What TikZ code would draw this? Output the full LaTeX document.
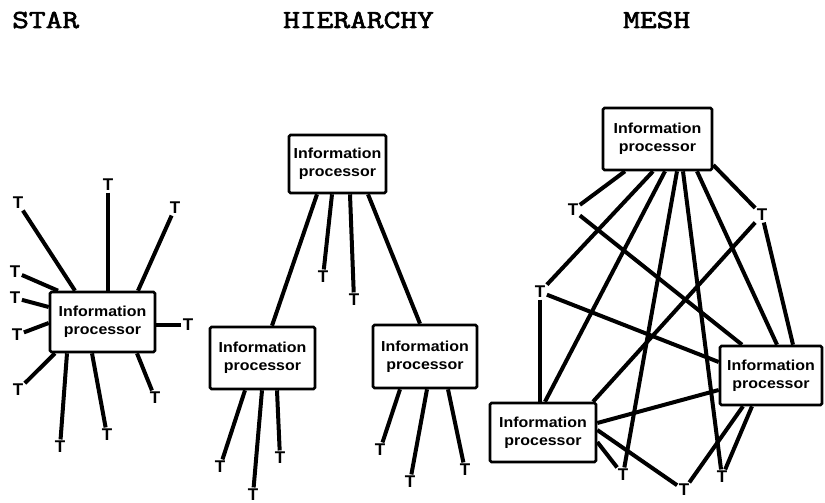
\documentclass[tikz,border=0pt]{standalone}
\usepackage{fontspec}
\setmainfont{Liberation Sans}
\newfontfamily\boxfont[FakeStretch=1.1]{Liberation Sans}
\newfontfamily\hdrfont[FakeBold=2.5,FakeStretch=1.25]{Latin Modern Mono}
\begin{document}
\begin{tikzpicture}[x=1pt,y=-1pt,
  proc/.style={draw, fill=white, line width=2.6pt, rounded corners=1.5pt, align=center,
    inner sep=0pt, minimum width=105pt, minimum height=60pt,
    font=\boxfont\bfseries\fontsize{14.5}{18}\selectfont},
  term/.style={inner sep=1.5pt, font=\bfseries\fontsize{17}{17}\selectfont},
  link/.style={line width=4pt},
  hdr/.style={anchor=base west, inner sep=0pt, font=\hdrfont\fontsize{26}{26}\selectfont}]
\useasboundingbox (0,0) rectangle (825,503);

% headers
\node[hdr] (hstar) at (12,28) {STAR};
\node[hdr] (hhier) at (283,28) {HIERARCHY};
\node[hdr] (hmesh) at (623,28) {MESH};

% ---------- STAR ----------
\node[proc] (S) at (102.5,322) {Information\\processor};
\node[term] (s1) at (108,185) {T};
\node[term] (s2) at (175,208) {T};
\node[term] (s3) at (18,203) {T};
\node[term] (s4) at (15,272) {T};
\node[term] (s5) at (15,298) {T};
\node[term] (s6) at (17,335) {T};
\node[term] (s7) at (188,325) {T};
\node[term] (s8) at (18,390) {T};
\node[term] (s9) at (60,447) {T};
\node[term] (s10) at (107,435) {T};
\node[term] (s11) at (155,398) {T};
\draw[link] (s1) -- ([xshift=5.5pt]S.north);
\draw[link] (s2) -- ([xshift=35.5pt]S.north);
\draw[link] (s3) -- ([xshift=-27.5pt]S.north);
\draw[link] (s4) -- ([xshift=-44.5pt]S.north);
\draw[link] (s5) -- ([yshift=15pt]S.west);
\draw[link] (s6) -- ([yshift=-1pt]S.west);
\draw[link] (s7) -- ([yshift=-3pt]S.east);
\draw[link] (s8) -- ([xshift=-47.5pt]S.south);
\draw[link] (s9) -- ([xshift=-35.5pt]S.south);
\draw[link] (s10) -- ([xshift=-10.5pt]S.south);
\draw[link] (s11) -- ([xshift=34.5pt]S.south);

% ---------- HIERARCHY ----------
\node[proc, minimum width=97pt, minimum height=58pt] (H1) at (337.5,164) {Information\\processor};
\node[proc, minimum height=62pt] (H2) at (262.5,358) {Information\\processor};
\node[proc, minimum width=104pt, minimum height=63pt] (H3) at (425,356.5) {Information\\processor};
\node[term] (h1) at (323,277) {T};
\node[term] (h2) at (354,300) {T};
\node[term] (h3) at (220,467) {T};
\node[term] (h4) at (253,495) {T};
\node[term] (h5) at (280,458) {T};
\node[term] (h6) at (380,450) {T};
\node[term] (h7) at (410,482) {T};
\node[term] (h8) at (465,470) {T};
\draw[link] ([xshift=-20.5pt]H1.south) -- ([xshift=9.5pt]H2.north);
\draw[link] ([xshift=30.5pt]H1.south) -- ([xshift=-5pt]H3.north);
\draw[link] ([xshift=-5.5pt]H1.south) -- (h1);
\draw[link] ([xshift=12.5pt]H1.south) -- (h2);
\draw[link] ([xshift=-17.5pt]H2.south) -- (h3);
\draw[link] ([xshift=-0.5pt]H2.south) -- (h4);
\draw[link] ([xshift=14.5pt]H2.south) -- (h5);
\draw[link] ([xshift=-25pt]H3.south) -- (h6);
\draw[link] ([xshift=2pt]H3.south) -- (h7);
\draw[link] ([xshift=23pt]H3.south) -- (h8);

% ---------- MESH ----------
\node[proc, minimum width=109pt, minimum height=62pt] (M1) at (657.5,139) {Information\\processor};
\node[proc, minimum width=102pt, minimum height=59pt] (M2) at (771,375.5) {Information\\processor};
\node[proc, minimum width=106pt, minimum height=59pt] (M3) at (543,432.5) {Information\\processor};
\node[term] (m1) at (573,210) {T};
\node[term] (m2) at (762,215) {T};
\node[term] (m3) at (540,292) {T};
\node[term] (m4) at (623,475) {T};
\node[term] (m5) at (684,490) {T};
\node[term] (m6) at (722,477) {T};
\draw[link] ([xshift=-32.5pt]M1.south) -- (m1);
\draw[link] ([xshift=-4.5pt]M1.south) -- (m3);
\draw[link] ([xshift=7.5pt]M1.south) -- ([xshift=2pt]M3.north);
\draw[link] ([xshift=19.5pt]M1.south) -- (m4);
\draw[link] ([xshift=25.5pt]M1.south) -- (m6);
\draw[link] ([xshift=39.5pt]M1.south) -- ([xshift=6pt]M2.north);
\draw[link] ([yshift=-26pt]M1.east) -- (m2);
\draw[link] (m1) -- ([xshift=-29pt]M2.north);
\draw[link] (m2) -- ([xshift=22pt]M2.north);
\draw[link] (m2) -- ([xshift=50pt]M3.north);
\draw[link] (m3) -- ([xshift=-3pt]M3.north);
\draw[link] (m3) -- ([yshift=13.5pt]M2.west);
\draw[link] ([yshift=-9.5pt]M3.east) -- (m4);
\draw[link] ([yshift=2.5pt]M3.east) -- (m5);
\draw[link] ([xshift=-28pt]M2.south) -- (m5);
\draw[link] ([xshift=-19pt]M2.south) -- (m6);
\draw[link] ([yshift=9.5pt]M3.east) -- ([yshift=-14.5pt]M2.west);
\end{tikzpicture}
\end{document}
